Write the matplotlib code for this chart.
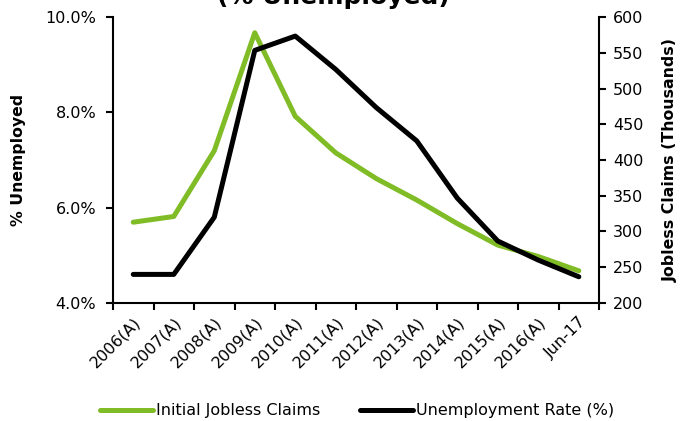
import matplotlib.pyplot as plt
import numpy as np

# categories and series values
YEARS = ['2006(A)', '2007(A)', '2008(A)', '2009(A)', '2010(A)', '2011(A)',
         '2012(A)', '2013(A)', '2014(A)', '2015(A)', '2016(A)', 'Jun-17']
JOBLESS_CLAIMS = [313, 321, 413, 578, 461, 410, 374, 344, 311, 281, 265, 245]
UNEMPLOYMENT = [4.6, 4.6, 5.8, 9.3, 9.6, 8.9, 8.1, 7.4, 6.2, 5.3, 4.9, 4.55]

GREEN = '#80bc26'

fig = plt.figure(figsize=(6.87, 4.21), dpi=100)
ax = fig.add_axes([0.1645, 0.2803, 0.7075, 0.6793])
ax2 = ax.twinx()

x = np.arange(len(YEARS))

ax.plot(x, UNEMPLOYMENT, color='black', lw=3.6, solid_capstyle='round',
        label='Unemployment Rate (%)', zorder=3)
ax2.plot(x, JOBLESS_CLAIMS, color=GREEN, lw=3.6, solid_capstyle='round',
         label='Initial Jobless Claims', zorder=2)
ax.set_zorder(ax2.get_zorder() + 1)
ax.patch.set_visible(False)

ax.set_xlim(-0.5, len(YEARS) - 0.5)
ax.set_ylim(4, 10)
ax.set_yticks([4, 6, 8, 10])
ax.set_yticklabels(['%.1f%%' % v for v in [4, 6, 8, 10]])
ax2.set_ylim(200, 600)
ax2.set_yticks(range(200, 601, 50))

# tick marks between categories, labels on the category centres
ax.set_xticks(np.arange(-0.5, len(YEARS), 1.0))
ax.set_xticklabels([])
ax.set_xticks(x, minor=True)
ax.set_xticklabels(YEARS, minor=True, rotation=45, ha='right',
                   rotation_mode='anchor', fontsize=11.5)
ax.tick_params(axis='x', which='minor', length=0, pad=8)
ax.tick_params(axis='x', which='major', length=5, width=1.5, direction='out')

ax.tick_params(axis='y', labelsize=11.5, length=5, width=1.5, pad=7)
ax2.tick_params(axis='y', labelsize=11.5, length=5, width=1.5, pad=5)

for a in (ax, ax2):
    a.spines['top'].set_visible(False)
    for s in ('left', 'right', 'bottom'):
        a.spines[s].set_linewidth(1.5)
ax.spines['right'].set_visible(False)
ax2.spines['left'].set_visible(False)
ax2.spines['bottom'].set_visible(False)

ax.set_ylabel('% Unemployed', fontsize=11.3, fontweight='bold', labelpad=14)
ax2.set_ylabel('Jobless Claims (Thousands)', fontsize=11.3, fontweight='bold',
               labelpad=14)

# title sits mostly above the canvas, as in the reference
fig.text(0.485, 1 - 4 / 421, '(% Unemployed)', ha='center', va='baseline',
         fontsize=18, fontweight='bold')

h1, l1 = ax2.get_legend_handles_labels()
h2, l2 = ax.get_legend_handles_labels()
fig.legend(h1 + h2, l1 + l2, loc='center', bbox_to_anchor=(0.52, 0.024),
           ncol=2, frameon=False, fontsize=11.5, handlelength=3.3,
           handletextpad=0.2, columnspacing=2.5)

fig.savefig('out.png', dpi=100)
